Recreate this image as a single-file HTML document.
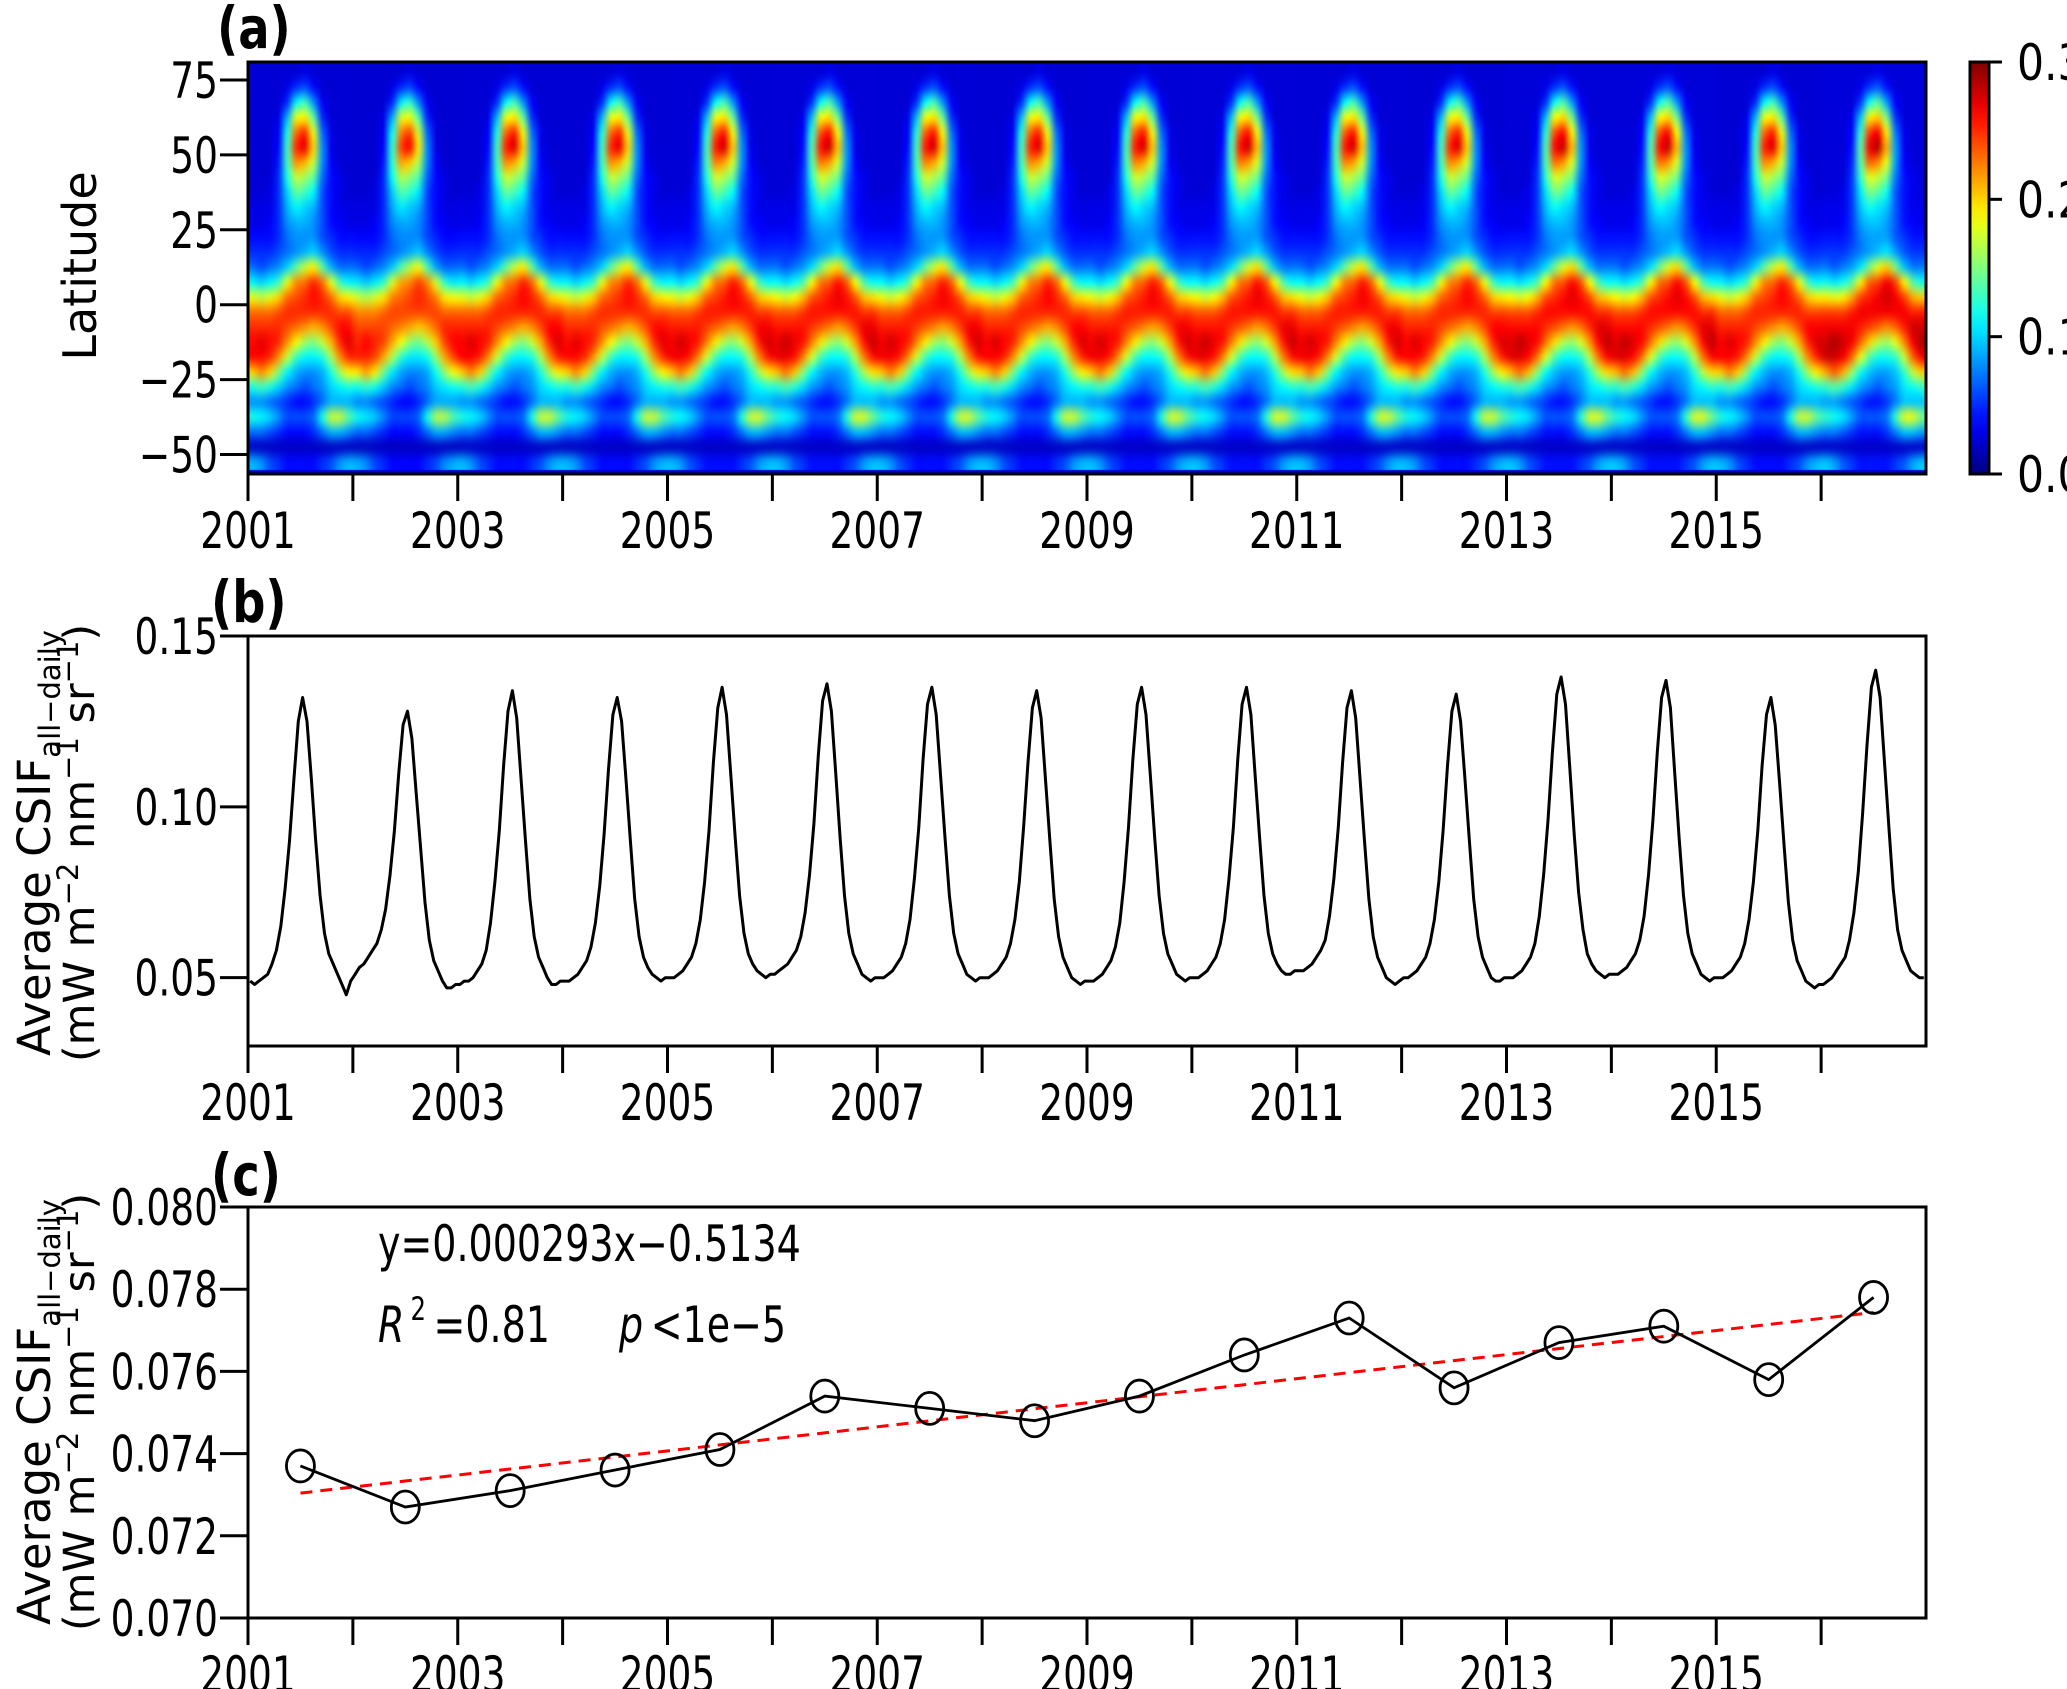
<!DOCTYPE html>
<html>
<head>
<meta charset="utf-8">
<style>
  html,body{margin:0;padding:0;background:#fff;}
  #wrap{position:relative;width:2067px;height:1689px;overflow:hidden;background:#fff;}
  #hm{position:absolute;left:248px;top:62px;}
  svg{position:absolute;left:0;top:0;}
  text{font-family:"DejaVu Sans","Liberation Sans",sans-serif;fill:#000;}
</style>
</head>
<body>
<div id="wrap">
  <canvas id="hm" width="1678" height="412"></canvas>
  <svg id="svg" width="2067" height="1689" xmlns="http://www.w3.org/2000/svg">
    <defs>
      <linearGradient id="jetgrad" x1="0" y1="1" x2="0" y2="0"></linearGradient>
    </defs>
  </svg>
</div>
<script>
// ---------------- DATA ----------------
const years = [2001,2002,2003,2004,2005,2006,2007,2008,2009,2010,2011,2012,2013,2014,2015,2016];
const latTicks = [75,50,25,0,-25,-50];
const latTickLabels = ["75","50","25","0","\u221225","\u221250"];
const xTickLabels = ["2001","2003","2005","2007","2009","2011","2013","2015"];
const cbTicks = [0.0,0.1,0.2,0.3];
const cbTickLabels = ["0.0","0.1","0.2","0.3"];
const latBins = [-52.5,-47.5,-42.5,-37.5,-32.5,-27.5,-22.5,-17.5,-12.5,-7.5,-2.5,2.5,7.5,12.5,17.5,22.5,27.5,32.5,37.5,42.5,47.5,52.5,57.5,62.5,67.5,72.5,77.5];
const climJan = [.09,.02,.07,.12,.08,.12,.20,.26,.26,.25,.23,.18,.11,.07,.05,.04,.03,.03,.025,.025,.025,.025,.025,.025,.025,.025,.025];
const climFeb = [.08,.02,.07,.11,.08,.13,.22,.26,.27,.25,.23,.17,.10,.06,.05,.04,.03,.03,.025,.025,.025,.025,.025,.025,.025,.025,.025];
const climMar = [.06,.02,.06,.10,.07,.12,.20,.25,.26,.25,.23,.18,.11,.07,.05,.04,.035,.03,.03,.025,.025,.025,.025,.025,.025,.025,.025];
const climApr = [.05,.02,.05,.08,.06,.10,.15,.22,.25,.25,.24,.20,.13,.08,.06,.05,.05,.05,.05,.05,.045,.04,.035,.03,.025,.025,.025];
const climMay = [.04,.02,.04,.06,.05,.08,.11,.17,.22,.24,.25,.23,.18,.10,.07,.07,.08,.09,.10,.12,.13,.13,.12,.09,.05,.03,.025];
const climJun = [.04,.02,.04,.06,.04,.07,.09,.13,.19,.23,.25,.24,.22,.14,.08,.08,.09,.11,.14,.17,.22,.25,.23,.18,.11,.05,.025];
const climJul = [.04,.02,.04,.06,.04,.06,.08,.11,.16,.22,.25,.25,.23,.17,.09,.08,.09,.10,.13,.16,.21,.27,.25,.19,.13,.06,.03];
const climAug = [.04,.02,.05,.07,.05,.07,.08,.11,.15,.21,.25,.26,.25,.19,.10,.08,.08,.09,.11,.14,.17,.20,.18,.14,.08,.04,.025];
const climSep = [.05,.02,.07,.12,.07,.08,.09,.12,.17,.22,.25,.25,.23,.14,.08,.06,.06,.06,.06,.07,.08,.08,.07,.05,.035,.025,.025];
const climOct = [.06,.02,.09,.17,.09,.10,.12,.16,.21,.24,.25,.23,.18,.09,.06,.05,.04,.04,.04,.04,.035,.03,.03,.025,.025,.025,.025];
const climNov = [.08,.02,.09,.17,.09,.11,.16,.22,.25,.26,.24,.20,.13,.07,.05,.04,.035,.03,.03,.03,.025,.025,.025,.025,.025,.025,.025];
const climDec = [.09,.02,.08,.14,.09,.12,.19,.25,.27,.26,.24,.19,.11,.07,.05,.04,.03,.03,.025,.025,.025,.025,.025,.025,.025,.025,.025];
const clim = [climJan,climFeb,climMar,climApr,climMay,climJun,climJul,climAug,climSep,climOct,climNov,climDec];
const yearScale = [1.00,0.97,1.01,1.00,1.02,1.03,1.02,1.01,1.02,1.03,1.02,1.01,1.04,1.04,1.01,1.06];

// panel b: 24 samples per year
const csif2001 = [.049,.048,.049,.050,.051,.054,.058,.065,.076,.090,.108,.125,.132,.125,.108,.090,.074,.063,.057,.054,.051,.048,.045,.049];
const csif2002 = [.051,.053,.054,.056,.058,.060,.064,.070,.080,.093,.110,.124,.128,.120,.104,.088,.072,.061,.055,.052,.049,.047,.047,.048];
const csif2003 = [.048,.049,.049,.050,.052,.054,.058,.066,.078,.093,.112,.128,.134,.126,.108,.090,.073,.062,.056,.053,.050,.048,.048,.049];
const csif2004 = [.049,.049,.050,.051,.053,.055,.059,.066,.077,.092,.111,.127,.132,.125,.108,.090,.073,.062,.056,.053,.051,.050,.049,.050];
const csif2005 = [.050,.050,.051,.052,.054,.056,.060,.067,.078,.093,.113,.129,.135,.127,.109,.091,.074,.063,.057,.054,.052,.051,.050,.051];
const csif2006 = [.051,.052,.053,.054,.056,.058,.062,.069,.080,.095,.115,.131,.136,.128,.110,.091,.074,.063,.057,.054,.051,.050,.049,.050];
const csif2007 = [.050,.050,.051,.052,.054,.056,.060,.067,.079,.094,.114,.130,.135,.127,.109,.091,.074,.063,.057,.054,.051,.050,.049,.050];
const csif2008 = [.050,.050,.051,.052,.054,.056,.060,.067,.078,.094,.113,.129,.134,.126,.108,.090,.073,.062,.056,.053,.050,.049,.048,.049];
const csif2009 = [.049,.049,.050,.051,.053,.055,.059,.066,.078,.094,.114,.130,.135,.127,.109,.091,.074,.063,.057,.054,.051,.050,.049,.050];
const csif2010 = [.050,.050,.051,.052,.054,.056,.060,.067,.079,.094,.114,.130,.135,.127,.109,.091,.074,.063,.057,.054,.052,.051,.051,.052];
const csif2011 = [.052,.052,.053,.054,.056,.058,.061,.068,.079,.094,.113,.129,.134,.126,.108,.090,.073,.062,.056,.053,.050,.049,.048,.049];
const csif2012 = [.050,.050,.051,.052,.054,.056,.060,.067,.078,.093,.112,.128,.133,.125,.108,.090,.073,.062,.056,.053,.050,.049,.049,.050];
const csif2013 = [.050,.050,.051,.052,.054,.056,.060,.068,.080,.096,.116,.133,.138,.130,.111,.092,.075,.064,.057,.054,.052,.051,.050,.051];
const csif2014 = [.051,.051,.052,.053,.055,.057,.061,.068,.080,.096,.116,.132,.137,.129,.110,.091,.074,.063,.057,.054,.051,.050,.049,.050];
const csif2015 = [.050,.050,.051,.052,.054,.056,.060,.067,.078,.093,.112,.127,.132,.124,.107,.089,.072,.061,.055,.052,.049,.048,.047,.048];
const csif2016 = [.048,.049,.050,.052,.054,.056,.061,.069,.081,.098,.118,.135,.140,.132,.113,.094,.076,.064,.058,.055,.052,.051,.050,.050];
const csifRows = [csif2001,csif2002,csif2003,csif2004,csif2005,csif2006,csif2007,csif2008,csif2009,csif2010,csif2011,csif2012,csif2013,csif2014,csif2015,csif2016];
const bTicks = [0.05,0.10,0.15];
const bTickLabels = ["0.05","0.10","0.15"];

// panel c: annual means
const annualMean = [0.0737,0.0727,0.0731,0.0736,0.0741,0.0754,0.0751,0.0748,0.0754,0.0764,0.0773,0.0756,0.0767,0.0771,0.0758,0.0778];
const trendSlope = 0.000293;
const trendIntercept = -0.5134;
const cTicks = [0.070,0.072,0.074,0.076,0.078,0.080];
const cTickLabels = ["0.070","0.072","0.074","0.076","0.078","0.080"];

// ---------------- LAYOUT ----------------
const X0 = 248, X1 = 1926, YR0 = 2001, YR1 = 2017;
const xS = yr => X0 + (yr - YR0) * (X1 - X0) / (YR1 - YR0);
const A = {y0:62, y1:474, lo:-56.5, hi:81};
const B = {y0:636, y1:1046, lo:0.03, hi:0.15};
const C = {y0:1207, y1:1618, lo:0.070, hi:0.080};
const yS = (P, v) => P.y1 - (v - P.lo) / (P.hi - P.lo) * (P.y1 - P.y0);
const CB = {x0:1970, x1:1989, y0:62, y1:474, lo:0, hi:0.3};
const FS = 50, SX = 0.75;

const svg = document.getElementById('svg');
const NS = 'http://www.w3.org/2000/svg';
function mk(tag, attrs, parent){
  const e = document.createElementNS(NS, tag);
  for (const k in attrs) e.setAttribute(k, attrs[k]);
  (parent || svg).appendChild(e);
  return e;
}
function txt(x, y, s, size, anchor, sx, weight){
  const t = mk('text', {x:0, y:0, 'font-size':size, 'text-anchor':anchor || 'start',
    transform:'translate(' + x + ',' + y + ') scale(' + (sx || SX) + ',1)'});
  if (weight) t.setAttribute('font-weight', weight);
  t.textContent = s;
  return t;
}
function jet(t){
  t = Math.max(0, Math.min(1, t));
  const c = v => Math.round(255 * Math.max(0, Math.min(1, v)));
  return [c(1.5 - Math.abs(4*t - 3)), c(1.5 - Math.abs(4*t - 2)), c(1.5 - Math.abs(4*t - 1))];
}

// ---------------- PANEL A: heatmap ----------------
const cv = document.getElementById('hm');
const ctx = cv.getContext('2d');
const bg = jet(0.025 / 0.3);
ctx.fillStyle = 'rgb(' + bg.join(',') + ')';
ctx.fillRect(0, 0, cv.width, cv.height);
const off = document.createElement('canvas');
off.width = years.length * 12; off.height = latBins.length;
const octx = off.getContext('2d');
const img = octx.createImageData(off.width, off.height);
for (let yi = 0; yi < years.length; yi++){
  for (let m = 0; m < 12; m++){
    for (let j = 0; j < latBins.length; j++){
      const v = clim[m][j] * yearScale[yi];
      const col = jet(v / 0.3);
      const px = yi*12 + m, py = latBins.length - 1 - j;
      const idx = (py * off.width + px) * 4;
      img.data[idx] = col[0]; img.data[idx+1] = col[1]; img.data[idx+2] = col[2]; img.data[idx+3] = 255;
    }
  }
}
octx.putImageData(img, 0, 0);
ctx.imageSmoothingEnabled = true;
ctx.imageSmoothingQuality = 'high';
const hTop = yS(A, latBins[latBins.length-1] + 2.5) - A.y0;
const hBot = yS(A, latBins[0] - 2.5) - A.y0;
ctx.drawImage(off, 0, 0, off.width, off.height, xS(years[0]) - X0, hTop, xS(years[years.length-1] + 1) - xS(years[0]), hBot - hTop);

const frameA = mk('rect', {x:X0, y:A.y0, width:X1-X0, height:A.y1-A.y0, fill:'none', stroke:'#000', 'stroke-width':3});



function yAxis(P, ticks, labels, name){
  const g = mk('g', {});
  
  
  ticks.forEach((v, i) => {
    const y = yS(P, v);
    mk('line', {x1:X0-28, x2:X0, y1:y, y2:y, stroke:'#000', 'stroke-width':3}, g);
    const t = txt(X0 - 30, y + 18, labels[i], FS, 'end');
    g.appendChild(t);
  });
}
function xAxis(P, name){
  const g = mk('g', {});
  
  
  for (let yr = YR0; yr < YR1; yr++){
    const x = xS(yr);
    mk('line', {x1:x, x2:x, y1:P.y1, y2:P.y1+27, stroke:'#000', 'stroke-width':3}, g);
  }
  xTickLabels.forEach(l => {
    const t = txt(xS(+l), P.y1 + 74, l, FS, 'middle');
    g.appendChild(t);
  });
}
yAxis(A, latTicks, latTickLabels, 'panel-a-y-axis');
xAxis(A, 'panel-a-x-axis');

const ta = txt(217, 48, '(a)', 58, 'start', 0.8, 'bold');


const latT = mk('text', {transform:'translate(96,266) rotate(-90)', 'font-size':46, 'text-anchor':'middle'});
latT.textContent = 'Latitude';



// colorbar
const grad = document.getElementById('jetgrad');
for (let i = 0; i <= 20; i++){
  const c = jet(i / 20);
  mk('stop', {offset:(i*5) + '%', 'stop-color':'rgb(' + c.join(',') + ')'}, grad);
}
const cbg = mk('g', {});


mk('rect', {x:CB.x0, y:CB.y0, width:CB.x1-CB.x0, height:CB.y1-CB.y0, fill:'url(#jetgrad)', stroke:'#000', 'stroke-width':3}, cbg);
cbTicks.forEach((v, i) => {
  const y = CB.y1 - (v - CB.lo) / (CB.hi - CB.lo) * (CB.y1 - CB.y0);
  mk('line', {x1:CB.x1, x2:CB.x1+13, y1:y, y2:y, stroke:'#000', 'stroke-width':3}, cbg);
  const t = txt(2017, y + 18, cbTickLabels[i], FS, 'start', 0.85);
  cbg.appendChild(t);
});

// ---------------- PANEL B ----------------
const frameB = mk('rect', {x:X0, y:B.y0, width:X1-X0, height:B.y1-B.y0, fill:'none', stroke:'#000', 'stroke-width':3});


yAxis(B, bTicks, bTickLabels, 'panel-b-y-axis');
xAxis(B, 'panel-b-x-axis');
let dB = '';
csifRows.forEach((row, yi) => {
  row.forEach((v, k) => {
    const x = xS(years[yi] + (k + 0.5) / row.length);
    dB += (dB ? 'L' : 'M') + x.toFixed(1) + ',' + yS(B, v).toFixed(1);
  });
});
const lineB = mk('path', {d:dB, fill:'none', stroke:'#000', 'stroke-width':3, 'stroke-linejoin':'round'});


const tb = txt(211, 622, '(b)', 58, 'start', 0.8, 'bold');



function unitLabel(cy, name){
  const g = mk('g', {});
  
  
  const t1 = mk('text', {transform:'translate(50,' + cy + ') rotate(-90)', 'font-size':45, 'text-anchor':'middle'}, g);
  t1.appendChild(document.createTextNode('Average CSIF'));
  const s1 = mk('tspan', {'font-size':29, dy:10}, t1); s1.textContent = 'all\u2212daily';
  const t2 = mk('text', {transform:'translate(94,' + cy + ') rotate(-90)', 'font-size':43, 'text-anchor':'middle'}, g);
  t2.appendChild(document.createTextNode('(mW m'));
  const a = mk('tspan', {'font-size':29, dy:-16}, t2); a.textContent = '\u22122';
  const b = mk('tspan', {dy:16}, t2); b.textContent = ' nm';
  const c = mk('tspan', {'font-size':29, dy:-16}, t2); c.textContent = '\u22121';
  const d = mk('tspan', {dy:16}, t2); d.textContent = ' sr';
  const e = mk('tspan', {'font-size':29, dy:-16}, t2); e.textContent = '\u22121';
  const f = mk('tspan', {dy:16}, t2); f.textContent = ')';
}
unitLabel(843, 'panel-b-y-axis-title');

// ---------------- PANEL C ----------------
const frameC = mk('rect', {x:X0, y:C.y0, width:X1-X0, height:C.y1-C.y0, fill:'none', stroke:'#000', 'stroke-width':3});


yAxis(C, cTicks, cTickLabels, 'panel-c-y-axis');
xAxis(C, 'panel-c-x-axis');
const tc = txt(211, 1195, '(c)', 58, 'start', 0.8, 'bold');


unitLabel(1412, 'panel-c-y-axis-title');

const xa = years[0] + 0.5, xb = years[years.length-1] + 0.5;
const trend = mk('line', {x1:xS(xa), y1:yS(C, trendSlope*xa + trendIntercept), x2:xS(xb), y2:yS(C, trendSlope*xb + trendIntercept),
  stroke:'#ff0000', 'stroke-width':3, 'stroke-dasharray':'12,8'});


let dC = '';
annualMean.forEach((v, i) => { dC += (i ? 'L' : 'M') + xS(years[i] + 0.5).toFixed(1) + ',' + yS(C, v).toFixed(1); });
const lineC = mk('path', {d:dC, fill:'none', stroke:'#000', 'stroke-width':2.8});


annualMean.forEach((v, i) => {
  const el = mk('ellipse', {cx:xS(years[i] + 0.5), cy:yS(C, v), rx:14, ry:16, fill:'none', stroke:'#000', 'stroke-width':2.8});
  
  
});
const eq = txt(378, 1261, 'y=0.000293x\u22120.5134', FS, 'start', 0.76);


const r2 = mk('text', {transform:'translate(378,1342) scale(0.76,1)', 'font-size':FS});
const ri = mk('tspan', {'font-style':'italic'}, r2); ri.textContent = 'R';
const rs = mk('tspan', {'font-size':32, dy:-22, dx:8}, r2); rs.textContent = '2';
const rv = mk('tspan', {dy:22, dx:10}, r2); rv.textContent = '=0.81';


const pv = mk('text', {transform:'translate(619,1342) scale(0.76,1)', 'font-size':FS});
const pi = mk('tspan', {'font-style':'italic'}, pv); pi.textContent = 'p';
const pr = mk('tspan', {dx:10}, pv); pr.textContent = '<1e\u22125';


</script>
</body>
</html>
